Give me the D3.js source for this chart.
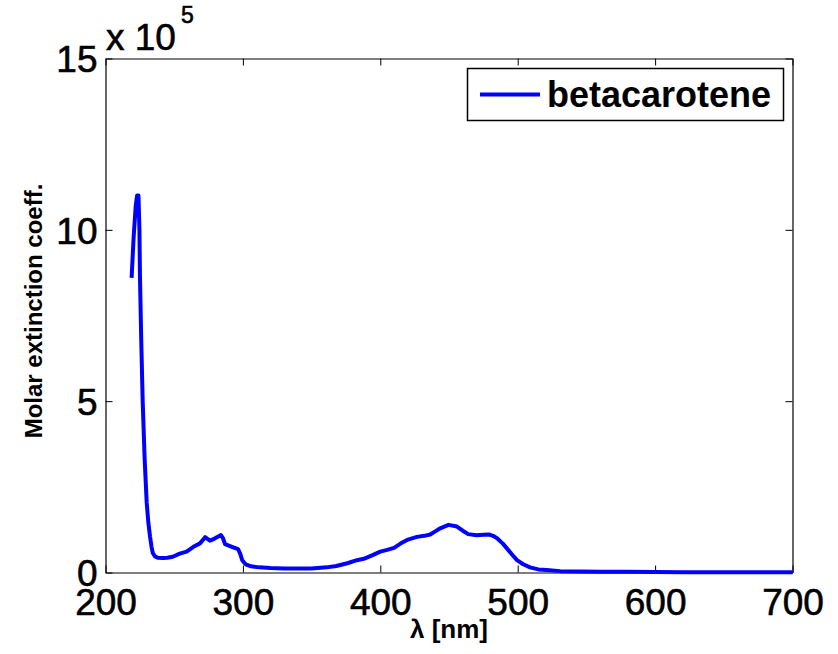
<!DOCTYPE html>
<html>
<head>
<meta charset="utf-8">
<script src="https://cdn.jsdelivr.net/npm/d3@7"></script>
<style>
  html, body { margin: 0; padding: 0; background: #fff; }
  svg { display: block; }
  text { font-family: "Liberation Sans", Arial, Helvetica, sans-serif; fill: #000; }
</style>
</head>
<body>
<svg id="chart" width="838" height="654"></svg>
<script>
// ---- data ----
const wavelength = [219, 220.5, 222, 223, 224, 224.7, 225.1, 226, 227.1, 228.5, 230, 231.2, 232.4, 233.5, 234.4, 236, 238, 242, 245, 249, 254, 259, 264, 268.8, 272.5, 276, 279, 281, 284, 285.5, 287, 292, 296.5, 298, 299.5, 302, 306, 312, 320, 330, 340, 350, 361, 368, 376, 383, 388, 394, 400, 405, 410, 415, 419.5, 426.7, 432, 436.3, 440, 443.6, 449.7, 455.8, 460, 464, 470, 475, 479, 482, 485, 489, 492, 496, 499.5, 504, 509, 515, 521, 531, 545, 560, 580, 600, 620, 640, 660, 680, 700];
const extinction = [8.6, 9.8, 10.7, 11.0, 11.0, 10.0, 8.6, 6.8, 4.95, 3.3, 2.03, 1.45, 1.05, 0.75, 0.57, 0.47, 0.43, 0.42, 0.43, 0.46, 0.55, 0.61, 0.75, 0.85, 1.03, 0.93, 0.98, 1.03, 1.09, 1.0, 0.83, 0.75, 0.68, 0.55, 0.36, 0.24, 0.18, 0.15, 0.13, 0.12, 0.12, 0.12, 0.15, 0.19, 0.27, 0.36, 0.40, 0.50, 0.61, 0.66, 0.72, 0.85, 0.95, 1.04, 1.07, 1.11, 1.20, 1.29, 1.39, 1.34, 1.22, 1.12, 1.09, 1.10, 1.11, 1.07, 1.00, 0.85, 0.71, 0.52, 0.36, 0.24, 0.15, 0.09, 0.07, 0.04, 0.03, 0.02, 0.02, 0.015, 0.01, 0.01, 0.01, 0.01, 0.01]; // x 10^5
const xTicks = [200, 300, 400, 500, 600, 700];
const yTicks = [0, 5, 10, 15];
const seriesName = "betacarotene";
const xLabel = "λ [nm]";
const yLabel = "Molar extinction coeff.";

// ---- layout ----
const L = 105.5, R = 792.5, T = 58.5, B = 572.5;
const svg = d3.select("#chart");
const x = d3.scaleLinear().domain([200, 700]).range([L, R]);
const y = d3.scaleLinear().domain([0, 15]).range([B, T]);
const fs = 37;

function styleAxis(g) {
  g.selectAll("path.domain").attr("stroke", "#000").attr("stroke-width", 1.2);
  g.selectAll(".tick line").attr("stroke", "#000").attr("stroke-width", 1);
  g.selectAll(".tick text").style("font-size", fs + "px").style("font-family", '"Liberation Sans", Arial, sans-serif').style("font-weight", "normal").attr("fill", "#000")
    .attr("stroke", "#000").attr("stroke-width", 0.6);
}

// bottom
svg.append("g").attr("transform", `translate(0,${B})`)
  .call(d3.axisBottom(x).tickValues(xTicks).tickSizeInner(-7).tickSizeOuter(0).tickPadding(16).tickFormat(d3.format("d")))
  .call(styleAxis);
// top
svg.append("g").attr("transform", `translate(0,${T})`)
  .call(d3.axisTop(x).tickValues(xTicks).tickSizeInner(-7).tickSizeOuter(0).tickFormat(""))
  .call(styleAxis);
// left
svg.append("g").attr("transform", `translate(${L},0)`)
  .call(d3.axisLeft(y).tickValues(yTicks).tickSizeInner(-7).tickSizeOuter(0).tickPadding(8).tickFormat(d3.format("d")))
  .call(styleAxis)
  .selectAll(".tick text").attr("dy", "0.36em");
// right
svg.append("g").attr("transform", `translate(${R},0)`)
  .call(d3.axisRight(y).tickValues(yTicks).tickSizeInner(-7).tickSizeOuter(0).tickFormat(""))
  .call(styleAxis);

// exponent label
const ex = svg.append("text").attr("x", 106).attr("y", 50).style("font-size", fs + "px")
  .attr("stroke", "#000").attr("stroke-width", 0.6);
ex.append("tspan").text("x 10");
ex.append("tspan").attr("x", 181).attr("y", 23).style("font-size", "23px").text("5");

// axis labels
svg.append("text").attr("x", (L + R) / 2).attr("y", 638).attr("text-anchor", "middle")
  .style("font-size", "26px").style("font-weight", "bold").text(xLabel);
svg.append("text").attr("transform", "translate(42,311) rotate(-90)").attr("text-anchor", "middle")
  .style("font-size", "24px").style("font-weight", "bold").text(yLabel);

// series
const data = wavelength.map((w, i) => [w, extinction[i]]);
svg.append("path").datum(data)
  .attr("fill", "none").attr("stroke", "#0000ff").attr("stroke-width", 4)
  .attr("stroke-linejoin", "round").attr("stroke-linecap", "butt")
  .attr("d", d3.line().x(d => x(d[0])).y(d => y(d[1])));

// legend
const lg = svg.append("g");
lg.append("rect").attr("x", 467.5).attr("y", 68.5).attr("width", 316).attr("height", 52)
  .attr("fill", "#fff").attr("stroke", "#000").attr("stroke-width", 1.5);
lg.append("line").attr("x1", 480).attr("x2", 540).attr("y1", 94.5).attr("y2", 94.5)
  .attr("stroke", "#0000ff").attr("stroke-width", 4);
lg.append("text").attr("x", 547).attr("y", 106.5).style("font-size", "36px").style("font-weight", "bold").text(seriesName);
</script>
</body>
</html>
